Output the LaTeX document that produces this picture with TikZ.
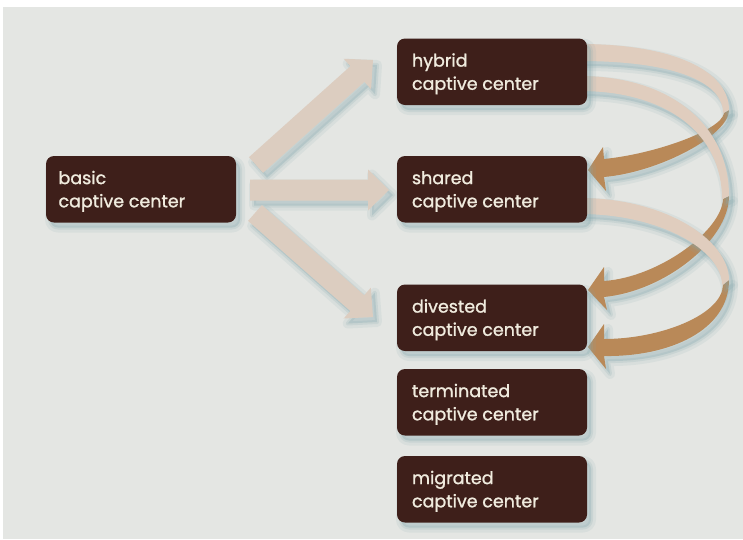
\documentclass[tikz,border=0pt]{standalone}
\usepackage{fontspec}
\setmainfont{Poppins}
\newfontfamily\boxfont{Poppins}[FakeBold=1.2]
\usetikzlibrary{calc}
\definecolor{bgc}{HTML}{E4E6E3}
\definecolor{boxc}{HTML}{3E1F1A}
\definecolor{txtc}{HTML}{F0EBDE}
\definecolor{arrc}{HTML}{DCCDC0}
\definecolor{ribc}{HTML}{E0CDBE}
\definecolor{backc}{HTML}{B98958}
\definecolor{shc}{HTML}{86A9AE}
% #1 tail, #2 tip, #3 id
\newcommand\fatarrow[3]{%
  \path ($(#2)!21pt!(#1)$) coordinate (#3b);
  \fill[arr] ($(#1)!10.5pt!90:(#2)$) -- ($(#3b)!10.5pt!90:(#2)$) -- ($(#3b)!20.5pt!90:(#2)$) -- (#2)
    -- ($(#3b)!20.5pt!-90:(#2)$) -- ($(#3b)!10.5pt!-90:(#2)$) -- ($(#1)!10.5pt!-90:(#2)$) -- cycle;}
\begin{document}
\begin{tikzpicture}[x=1pt,y=-1pt,
  shadowed/.style={
    preaction={fill=shc, fill opacity=0.12, draw=shc, draw opacity=0.12, line width=10pt, line join=round, transform canvas={shift={(4pt,-5pt)}}},
    preaction={fill=shc, fill opacity=0.2, draw=shc, draw opacity=0.18, line width=4pt, line join=round, transform canvas={shift={(4pt,-5pt)}}}},
  box/.style={shadowed, fill=boxc, rounded corners=8pt, minimum width=190pt, minimum height=66.5pt, inner sep=0pt},
  lbl/.style={anchor=base west, inner sep=0pt, text=txtc, font=\boxfont\fontsize{17.5}{20}\selectfont},
  arr/.style={shadowed, fill=arrc},
  front/.style={shadowed, fill=ribc},
  back/.style={shadowed, fill=backc}]
\useasboundingbox (0,0) rectangle (743,539);
\fill[white] (0,0) rectangle (743,539);
\fill[bgc] (3,7) rectangle (743,539);

% straight arrows
\coordinate (a1t) at (256,165); \coordinate (a1p) at (373,60);
\coordinate (a2t) at (250,190); \coordinate (a2p) at (389,190);
\coordinate (a3t) at (255,213); \coordinate (a3p) at (373,317);
\fatarrow{a1t}{a1p}{a1}
\fatarrow{a2t}{a2p}{a2}
\fatarrow{a3t}{a3p}{a3}

% ribbon backs (brown)
\fill[back] (729,110) .. controls (729,135) and (660,172) .. (604,177) -- (606,191) -- (588,170) -- (603,147) -- (604,159)
  .. controls (655,154) and (722,130) .. (724,113) -- cycle;
\fill[back] (729,196) .. controls (729,240) and (665,291) .. (604,297) -- (607,310) -- (588,290) -- (604,267) -- (604,281)
  .. controls (660,277) and (722,230) .. (723,199) -- cycle;
\fill[back] (729,280) .. controls (729,330) and (670,357) .. (604,356) -- (606,369) -- (588,347) -- (604,324) -- (604,339)
  .. controls (660,339) and (722,315) .. (723,285) -- cycle;

% ribbon fronts (beige)
\fill[front] (580,44) .. controls (672,44) and (729,70) .. (729,110) -- (723,113) .. controls (723,80) and (669,61) .. (580,61) -- cycle;
\fill[front] (580,76) .. controls (669,76) and (729,124) .. (729,196) -- (722,199) .. controls (722,133) and (666,91) .. (580,91) -- cycle;
\fill[front] (580,198) .. controls (665,198) and (729,240) .. (729,280) -- (722,285) .. controls (722,250) and (660,214) .. (580,214) -- cycle;

% boxes
\node[box] (basic) at (141,189.25) {};
\node[box] (hybrid) at (492,71.75) {};
\node[box] (shared) at (492,189.25) {};
\node[box] (divested) at (492,317.75) {};
\node[box] (terminated) at (492,402.25) {};
\node[box] (migrated) at (492,489.25) {};

\node[lbl] (basic-1) at ($(basic.north west)+(12.5,28.3)$) {basic};
\node[lbl] (basic-2) at ($(basic.north west)+(12.5,51.5)$) {captive center};
\foreach \n/\w in {hybrid/hybrid, shared/shared, divested/divested, terminated/terminated, migrated/migrated}{
  \node[lbl] (\n-1) at ($(\n.north west)+(15,28.3)$) {\w};
  \node[lbl] (\n-2) at ($(\n.north west)+(15,51.5)$) {captive center};
}
\end{tikzpicture}
\end{document}
